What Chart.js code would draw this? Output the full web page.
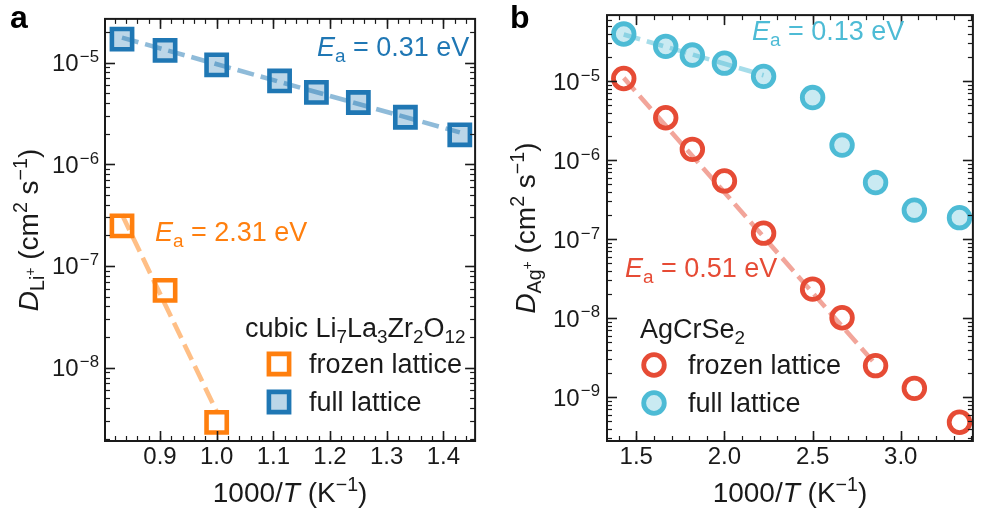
<!DOCTYPE html>
<html>
<head>
<meta charset="utf-8">
<script src="https://cdn.jsdelivr.net/npm/chart.js"></script>
<style>
  body { margin: 0; background: #fff; }
  #wrap { position: relative; width: 988px; height: 511px; }
  canvas { position: absolute; top: 0; }
</style>
</head>
<body>
<div id="wrap">
  <canvas id="chart-a" width="494" height="511" style="left:0"></canvas>
  <canvas id="chart-b" width="494" height="511" style="left:494px"></canvas>
</div>
<script>
// Panel a: cubic Li7La3Zr2O12
const llzoX = [0.833, 0.909, 1.0, 1.111, 1.176, 1.25, 1.333, 1.429];
const llzoFull = [1.7e-5, 1.32e-5, 9.5e-6, 6.6e-6, 5.1e-6, 4.05e-6, 2.9e-6, 1.95e-6];
const llzoFrozenX = [0.833, 0.909, 1.0];
const llzoFrozen = [2.48e-7, 5.75e-8, 2.9e-9];
const llzoFullFitX = [0.833, 1.429];
const llzoFullFit = [1.76e-5, 2.06e-6];
const llzoFrozenFitX = [0.833, 1.0];
const llzoFrozenFit = [3.2e-7, 3.7e-9];

// Panel b: AgCrSe2
const agX = [1.429, 1.667, 1.818, 2.0, 2.222, 2.5, 2.667, 2.857, 3.077, 3.333];
const agFull = [3.95e-5, 2.76e-5, 2.14e-5, 1.69e-5, 1.15e-5, 6.2e-6, 1.55e-6, 5.2e-7, 2.33e-7, 1.87e-7];
const agFrozen = [1.08e-5, 3.44e-6, 1.37e-6, 5.46e-7, 1.19e-7, 2.33e-8, 1.01e-8, 2.5e-9, 1.29e-9, 4.8e-10];
const agFullFitX = [1.429, 2.222];
const agFullFit = [3.9e-5, 1.19e-5];
const agFrozenFitX = [1.429, 2.857];
const agFrozenFit = [1.1e-5, 2.6e-9];

// tick labels
const aXTicks = [0.9, 1.0, 1.1, 1.2, 1.3, 1.4];
const aXTickLabels = ['0.9', '1.0', '1.1', '1.2', '1.3', '1.4'];
const aYTicks = [1e-8, 1e-7, 1e-6, 1e-5];
const aYTickExps = ['\u22128', '\u22127', '\u22126', '\u22125'];
const bXTicks = [1.5, 2.0, 2.5, 3.0];
const bXTickLabels = ['1.5', '2.0', '2.5', '3.0'];
const bYTicks = [1e-9, 1e-8, 1e-7, 1e-6, 1e-5];
const bYTickExps = ['\u22129', '\u22128', '\u22127', '\u22126', '\u22125'];

const FONT = '"Liberation Sans", Arial, sans-serif';
const INK = '#1a1a1a';
const TAB_BLUE = '#1f77b4', TAB_ORANGE = '#ff7f0e';
const NPG_RED = '#e64b35', NPG_CYAN = '#4dbbd5';

const zip = (xs, ys) => xs.map((x, i) => ({ x: x, y: ys[i] }));

// rich text: parts = [{t, it, s (scale), dy (em)}]
function partFont(p, size) {
    return (p.b ? 'bold ' : '') + (p.it ? 'italic ' : '') + (size * (p.s || 1)) + 'px ' + FONT;
}
function richWidth(ctx, parts, size) {
    let w = 0;
    for (const p of parts) {
        ctx.font = partFont(p, size);
        w += ctx.measureText(p.t).width + (p.gap || 0) * size;
    }
    return w;
}
function drawRich(ctx, parts, x, y, size, color, align) {
    const w = richWidth(ctx, parts, size);
    let cx = align === 'center' ? x - w / 2 : align === 'right' ? x - w : x;
    ctx.fillStyle = color;
    ctx.textAlign = 'left';
    ctx.textBaseline = 'alphabetic';
    for (const p of parts) {
        ctx.font = partFont(p, size);
        cx += (p.gap || 0) * size;
        ctx.fillText(p.t, cx, y + (p.dy || 0) * size);
        cx += ctx.measureText(p.t).width;
    }
}
const sub = t => ({ t: t, s: 0.7, dy: 0.22 });
const sup = t => ({ t: t, s: 0.7, dy: -0.38 });

function drawMarker(ctx, style, x, y, r, stroke, fill, lw) {
    ctx.beginPath();
    if (style === 'rect') {
        const h = r * Math.SQRT1_2;
        ctx.rect(x - h, y - h, 2 * h, 2 * h);
    } else {
        ctx.arc(x, y, r, 0, Math.PI * 2);
    }
    ctx.fillStyle = fill;
    ctx.fill();
    ctx.lineWidth = lw;
    ctx.strokeStyle = stroke;
    ctx.stroke();
}

function panelPlugin(p) {
    return {
        id: 'panel-' + p.letter,
        afterDatasetsDraw(chart) {
            const ctx = chart.ctx, a = chart.chartArea;
            const xs = chart.scales.x, ys = chart.scales.y;
            ctx.save();
            ctx.strokeStyle = INK;
            const seg = (x1, y1, x2, y2, lw) => {
                ctx.lineWidth = lw;
                ctx.beginPath(); ctx.moveTo(x1, y1); ctx.lineTo(x2, y2); ctx.stroke();
            };
            // x ticks, top and bottom, pointing in
            for (let k = Math.ceil(xs.min / p.xMinorStep - 1e-9); k * p.xMinorStep <= xs.max; k++) {
                const x = Math.round(xs.getPixelForValue(k * p.xMinorStep)) + 0.5;
                seg(x, a.bottom, x, a.bottom - 5, 1.2);
                seg(x, a.top, x, a.top + 5, 1.2);
            }
            p.xTicks.forEach(v => {
                const x = Math.round(xs.getPixelForValue(v)) + 0.5;
                seg(x, a.bottom, x, a.bottom - 10, 1.6);
                seg(x, a.top, x, a.top + 10, 1.6);
            });
            // y ticks, left and right
            const e0 = Math.floor(Math.log10(ys.min)), e1 = Math.ceil(Math.log10(ys.max));
            for (let e = e0; e <= e1; e++) {
                for (let m = 2; m <= 9; m++) {
                    const v = m * Math.pow(10, e);
                    if (v < ys.min || v > ys.max) continue;
                    const y = Math.round(ys.getPixelForValue(v)) + 0.5;
                    seg(a.left, y, a.left + 5, y, 1.2);
                    seg(a.right, y, a.right - 5, y, 1.2);
                }
            }
            p.yTicks.forEach(v => {
                const y = Math.round(ys.getPixelForValue(v)) + 0.5;
                seg(a.left, y, a.left + 10, y, 1.6);
                seg(a.right, y, a.right - 10, y, 1.6);
            });
            // frame
            ctx.lineWidth = 2;
            ctx.strokeRect(a.left, a.top, a.right - a.left, a.bottom - a.top);

            // tick labels
            p.xTicks.forEach((v, i) => {
                drawRich(ctx, [{ t: p.xTickLabels[i] }], xs.getPixelForValue(v), a.bottom + 23, 24, INK, 'center');
            });
            p.yTicks.forEach((v, i) => {
                drawRich(ctx, [{ t: '10' }, { t: p.yTickExps[i], s: 0.7, dy: -0.38, gap: 0.05 }],
                    a.left - p.yLabelGap, ys.getPixelForValue(v) + 8.5, 24, INK, 'right');
            });

            // axis titles
            drawRich(ctx, [{ t: '1000/' }, { t: 'T', it: true }, { t: ' (K' }, sup('\u22121'), { t: ')' }],
                (a.left + a.right) / 2, 502, 28, INK, 'center');
            ctx.save();
            ctx.translate(p.yTitleX, (a.top + a.bottom) / 2);
            ctx.rotate(-Math.PI / 2);
            drawRich(ctx, [{ t: 'D', it: true }, sub(p.ion), { t: '+', s: 0.5, dy: -0.12 },
                { t: ' (cm' }, sup('2'), { t: ' s' }, sup('\u22121'), { t: ')' }], 0, 0, 28, INK, 'center');
            ctx.restore();

            // panel letter
            drawRich(ctx, [{ t: p.letter, b: true }], p.letterX, 28, 32, '#000', 'left');

            // activation energies
            p.notes.forEach(n => {
                drawRich(ctx, [{ t: 'E', it: true }, sub('a'), { t: ' = ' + n.text }], n.x, n.y, 27, n.color, 'left');
            });

            // legend
            drawRich(ctx, p.legendTitle, p.legend.x, p.legend.y, 27, INK, 'left');
            p.legend.items.forEach(it => {
                drawMarker(ctx, it.style, p.legend.mx, it.my, it.r, it.stroke, it.fill, it.lw);
                drawRich(ctx, [{ t: it.label }], p.legend.tx, it.my + 9, 27, INK, 'left');
            });
            ctx.restore();
        }
    };
}

function makeChart(id, cfg) {
    return new Chart(document.getElementById(id), {
        type: 'scatter',
        data: { datasets: cfg.datasets },
        options: {
            responsive: false,
            animation: false,
            devicePixelRatio: 1,
            layout: { padding: cfg.padding },
            scales: {
                x: { type: 'linear', display: false, min: cfg.xMin, max: cfg.xMax, bounds: 'data' },
                y: { type: 'logarithmic', display: false, min: cfg.yMin, max: cfg.yMax }
            },
            plugins: { legend: { display: false }, tooltip: { enabled: false } },
            elements: { point: { hoverRadius: 0 } }
        },
        plugins: [panelPlugin(cfg.panel)]
    });
}

function markerSet(label, data, style, r, stroke, fill, lw) {
    return {
        label: label, data: data, showLine: false, clip: false,
        pointStyle: style, pointRadius: r, pointBorderWidth: lw,
        borderColor: stroke, backgroundColor: fill,
        pointBorderColor: stroke, pointBackgroundColor: fill
    };
}
function fitSet(label, data, color) {
    return {
        label: label, data: data, showLine: true, clip: false,
        borderColor: color, borderWidth: 4.6, borderDash: [17, 7],
        pointRadius: 0, fill: false
    };
}

const blueFill = 'rgba(31,119,180,0.3)', cyanFill = 'rgba(77,187,213,0.3)';
const SQ_R = 14.3, SQ_LW = 4.6, CI_R = 10.3, CI_LW = 4.8;

makeChart('chart-a', {
    padding: { left: 105, right: 8, top: 4, bottom: 70 },
    xMin: 0.803, xMax: 1.456, yMin: 1.9e-9, yMax: 2.69e-5,
    datasets: [
        markerSet('frozen lattice', zip(llzoFrozenX, llzoFrozen), 'rect', SQ_R, TAB_ORANGE, 'rgba(255,255,255,0)', SQ_LW),
        markerSet('full lattice', zip(llzoX, llzoFull), 'rect', SQ_R, TAB_BLUE, blueFill, SQ_LW),
        fitSet('frozen fit', zip(llzoFrozenFitX, llzoFrozenFit), 'rgba(255,127,14,0.5)'),
        fitSet('full fit', zip(llzoFullFitX, llzoFullFit), 'rgba(31,119,180,0.5)')
    ],
    panel: {
        letter: 'a', letterX: 10, ion: 'Li', yTitleX: 38, yLabelGap: 6,
        xTicks: aXTicks, xTickLabels: aXTickLabels, xMinorStep: 0.02,
        yTicks: aYTicks, yTickExps: aYTickExps,
        notes: [
            { text: '0.31 eV', x: 317, y: 56, color: TAB_BLUE },
            { text: '2.31 eV', x: 155, y: 241, color: TAB_ORANGE }
        ],
        legendTitle: [{ t: 'cubic Li' }, sub('7'), { t: 'La' }, sub('3'), { t: 'Zr' }, sub('2'), { t: 'O' }, sub('12')],
        legend: {
            x: 245, y: 337, mx: 279, tx: 309,
            items: [
                { label: 'frozen lattice', my: 364, style: 'rect', r: SQ_R, stroke: TAB_ORANGE, fill: '#fff', lw: SQ_LW },
                { label: 'full lattice', my: 402, style: 'rect', r: SQ_R, stroke: TAB_BLUE, fill: blueFill, lw: SQ_LW }
            ]
        }
    }
});

makeChart('chart-b', {
    padding: { left: 113, right: 6, top: 4, bottom: 70 },
    xMin: 1.334, xMax: 3.409, yMin: 2.78e-10, yMax: 6.86e-5,
    datasets: [
        markerSet('frozen lattice', zip(agX, agFrozen), 'circle', CI_R, NPG_RED, 'rgba(255,255,255,0)', CI_LW),
        markerSet('full lattice', zip(agX, agFull), 'circle', CI_R, NPG_CYAN, cyanFill, CI_LW),
        fitSet('frozen fit', zip(agFrozenFitX, agFrozenFit), 'rgba(230,75,53,0.5)'),
        fitSet('full fit', zip(agFullFitX, agFullFit), 'rgba(77,187,213,0.5)')
    ],
    panel: {
        letter: 'b', letterX: 16, ion: 'Ag', yTitleX: 41, yLabelGap: 7,
        xTicks: bXTicks, xTickLabels: bXTickLabels, xMinorStep: 0.1,
        yTicks: bYTicks, yTickExps: bYTickExps,
        notes: [
            { text: '0.13 eV', x: 258, y: 40, color: NPG_CYAN },
            { text: '0.51 eV', x: 131, y: 277, color: NPG_RED }
        ],
        legendTitle: [{ t: 'AgCrSe' }, sub('2')],
        legend: {
            x: 146, y: 338, mx: 160, tx: 194,
            items: [
                { label: 'frozen lattice', my: 365, style: 'circle', r: CI_R, stroke: NPG_RED, fill: '#fff', lw: CI_LW },
                { label: 'full lattice', my: 403, style: 'circle', r: CI_R, stroke: NPG_CYAN, fill: cyanFill, lw: CI_LW }
            ]
        }
    }
});
</script>
</body>
</html>
